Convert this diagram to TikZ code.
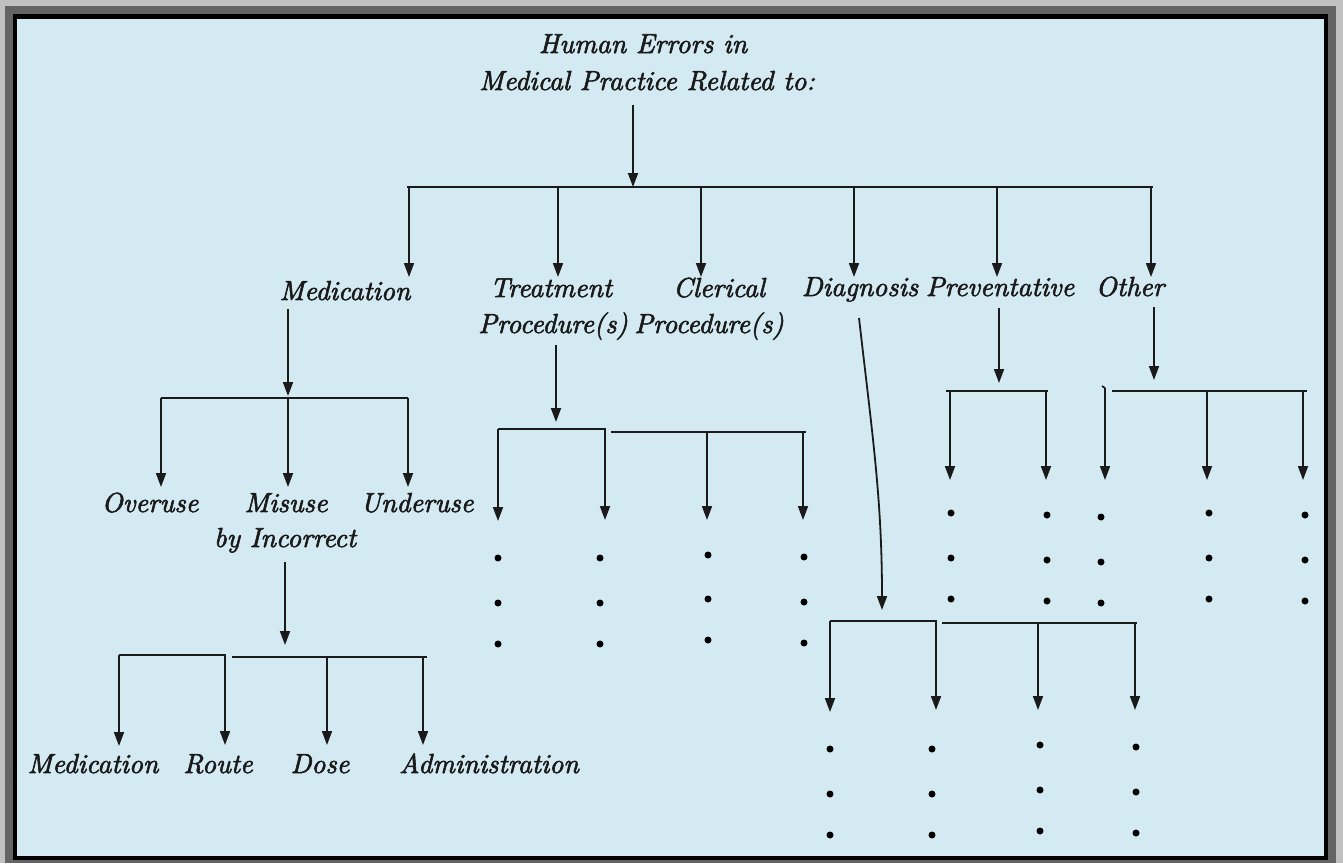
\documentclass[tikz,border=0pt]{standalone}
\usepackage{fontspec}
\newfontfamily\lblfont[FakeBold=2.2]{lmroman10-italic.otf}
\usetikzlibrary{arrows.meta}
\definecolor{bgblue}{HTML}{D4EAF2}
\definecolor{framelight}{HTML}{C0C0C0}
\definecolor{framedark}{HTML}{646464}
\definecolor{inkc}{HTML}{1A1A1A}
\begin{document}
\begin{tikzpicture}[x=1pt,y=-1pt,
  lbl/.style={anchor=base, inner sep=0pt, text=inkc, font=\lblfont\fontsize{27.5}{36}\selectfont},
  ln/.style={line width=1.8pt, draw=inkc},
  arr/.style={ln, -{Triangle[width=10pt,length=14pt]}},
  dotn/.style={circle, fill=black, inner sep=0pt, minimum size=7pt}]
\useasboundingbox (0,0) rectangle (1343,863);
% frame
\fill[framelight] (0,0) rectangle (1343,863);
\fill[framedark] (5,6) rectangle (1336,863);
\fill[black] (13,14) rectangle (1328,860);
\fill[bgblue] (17,19) rectangle (1324,856);

% labels
\node[lbl] (top1) at (643,53) {Human Errors in};
\node[lbl] (top2) at (647,90) {Medical Practice Related to:};
\node[lbl] (med) at (345,300) {Medication};
\node[lbl] (treat1) at (551,297) {Treatment};
\node[lbl] (treat2) at (553,333) {Procedure(s)};
\node[lbl] (cler1) at (719,297) {Clerical};
\node[lbl] (cler2) at (709,333) {Procedure(s)};
\node[lbl] (diag) at (860,296) {Diagnosis};
\node[lbl] (prev) at (1000,296) {Preventative};
\node[lbl] (other) at (1130,296) {Other};
\node[lbl] (over) at (150,512) {Overuse};
\node[lbl] (mis1) at (286,512) {Misuse};
\node[lbl] (mis2) at (285,547) {by Incorrect};
\node[lbl] (under) at (417,512) {Underuse};
\node[lbl] (bmed) at (93,773) {Medication};
\node[lbl] (route) at (218,773) {Route};
\node[lbl] (dose) at (320,773) {Dose};
\node[lbl] (admin) at (489,773) {Administration};

% top level
\coordinate (topS) at (633,105);
\coordinate (topB) at (633,187);
\coordinate (topL) at (407,187);
\coordinate (topR) at (1153,187);
\draw[arr] (topS) -- (topB);
\draw[ln] (topL) -- (topR);
\foreach \x/\n in {409/med,558/treat1,701/cler1,854/diag,997/prev,1151/other}
  \draw[arr] (\x,187) -- (\x,277);

% medication subtree
\coordinate (medS) at (288,309);
\coordinate (medB) at (288,396);
\draw[arr] (medS) -- (medB);
\coordinate (medL) at (161,398);
\coordinate (medR) at (408,398);
\draw[ln] (medL) -- (medR);
\foreach \x in {161,288,408} \draw[arr] (\x,398) -- (\x,487);

% misuse subtree
\coordinate (misS) at (285,562);
\coordinate (misB) at (285,645);
\draw[arr] (misS) -- (misB);
\draw[ln] (119,655) -- (226,655);
\draw[ln] (232,657) -- (427,657);
\draw[arr] (119,655) -- (119,746);
\draw[arr] (225,655) -- (225,745);
\draw[arr] (327,657) -- (327,745);
\draw[arr] (423,657) -- (423,745);

% treatment subtree
\coordinate (trS) at (556,345);
\coordinate (trB) at (556,422);
\draw[arr] (trS) -- (trB);
\draw[ln] (498,429) -- (606,429);
\draw[ln] (611,432) -- (806,432);
\draw[arr] (498,429) -- (498,521);
\draw[arr] (605,429) -- (605,520);
\draw[arr] (707,432) -- (707,520);
\draw[arr] (803,432) -- (803,520);
\foreach \x/\ya/\yb/\yc [count=\i] in {498/558/603/644,600/558/603/644,708/555/599/640,804/557/602/643}{
  \node[dotn] (tA\i) at (\x,\ya) {};
  \node[dotn] (tB\i) at (\x,\yb) {};
  \node[dotn] (tC\i) at (\x,\yc) {};
}

% diagnosis subtree
\coordinate (dgS) at (859,318);
\coordinate (dgB) at (882,610);
\draw[arr] (dgS) .. controls (873,440) and (882,500) .. (dgB);
\draw[ln] (830,621) -- (937,621);
\draw[ln] (942,623) -- (1137,623);
\draw[arr] (830,621) -- (830,712);
\draw[arr] (936,621) -- (936,710);
\draw[arr] (1038,623) -- (1038,710);
\draw[arr] (1135,623) -- (1135,710);
\foreach \x/\ya/\yb/\yc [count=\i] in {830/749/794/835,932/749/794/835,1040/745/790/831,1136/747/792/833}{
  \node[dotn] (dA\i) at (\x,\ya) {};
  \node[dotn] (dB\i) at (\x,\yb) {};
  \node[dotn] (dC\i) at (\x,\yc) {};
}

% preventative subtree
\coordinate (pvS) at (999,308);
\coordinate (pvB) at (999,383);
\draw[arr] (pvS) -- (pvB);
\draw[ln] (946,391) -- (1048,391);
\draw[arr] (950,391) -- (950,480);
\draw[arr] (1046,391) -- (1046,480);
\foreach \x/\ya/\yb/\yc [count=\i] in {951/513/558/599,1047/515/560/601}{
  \node[dotn] (pA\i) at (\x,\ya) {};
  \node[dotn] (pB\i) at (\x,\yb) {};
  \node[dotn] (pC\i) at (\x,\yc) {};
}

% other subtree
\coordinate (otS) at (1154,307);
\coordinate (otB) at (1154,380);
\draw[arr] (otS) -- (otB);
\draw[ln] (1112,391) -- (1307,391);
\draw[ln] (1102,386) -- (1105,388);
\draw[arr] (1105,388) -- (1105,480);
\draw[arr] (1207,391) -- (1207,480);
\draw[arr] (1303,391) -- (1303,480);
\foreach \x/\ya/\yb/\yc [count=\i] in {1101/517/562/603,1209/513/558/599,1305/515/560/601}{
  \node[dotn] (oA\i) at (\x,\ya) {};
  \node[dotn] (oB\i) at (\x,\yb) {};
  \node[dotn] (oC\i) at (\x,\yc) {};
}
\end{tikzpicture}
\end{document}
